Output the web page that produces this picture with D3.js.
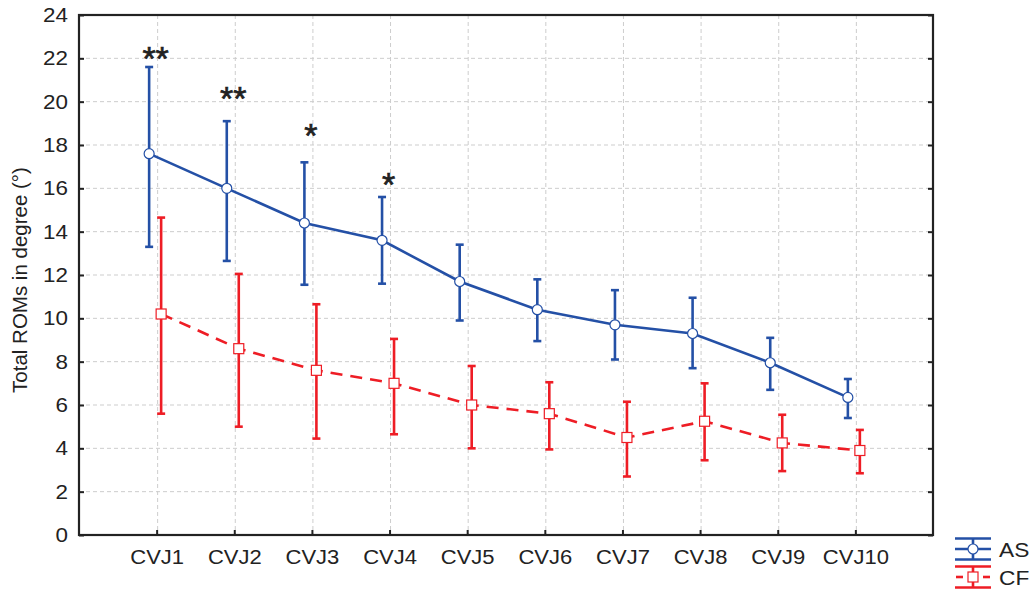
<!DOCTYPE html>
<html>
<head>
<meta charset="utf-8">
<script src="https://cdn.jsdelivr.net/npm/d3@7/dist/d3.min.js"></script>
<style>
  html, body { margin: 0; padding: 0; background: #fff; }
  svg { display: block; }
  text { font-family: "Liberation Sans", Arial, sans-serif; fill: #222; }
</style>
</head>
<body>
<svg id="chart" width="1032" height="594"></svg>
<script>
// Joint categories along the x axis
const categories = ["CVJ1", "CVJ2", "CVJ3", "CVJ4", "CVJ5", "CVJ6", "CVJ7", "CVJ8", "CVJ9", "CVJ10"];

// AS group: mean and error-bar limits (degrees)
const asMean  = [17.6, 16.0, 14.4, 13.6, 11.7, 10.4, 9.7, 9.3, 7.95, 6.35];
const asUpper = [21.6, 19.1, 17.2, 15.6, 13.4, 11.8, 11.3, 10.95, 9.1, 7.2];
const asLower = [13.3, 12.65, 11.55, 11.6, 9.9, 8.95, 8.1, 7.7, 6.7, 5.4];

// CF group: mean and error-bar limits (degrees)
const cfMean  = [10.2, 8.6, 7.6, 7.0, 6.0, 5.6, 4.5, 5.25, 4.25, 3.9];
const cfUpper = [14.65, 12.05, 10.65, 9.05, 7.8, 7.05, 6.15, 7.0, 5.55, 4.85];
const cfLower = [5.6, 5.0, 4.45, 4.65, 4.0, 3.95, 2.7, 3.45, 2.95, 2.85];

// Significance markers and the value level they sit at
const sigLabels = ["**", "**", "*", "*", "", "", "", "", "", ""];
const sigLevel  = [22.3, 20.45, 18.75, 16.5, null, null, null, null, null, null];

// Axis ticks
const yTicks = [0, 2, 4, 6, 8, 10, 12, 14, 16, 18, 20, 22, 24];
const seriesNames = ["AS", "CF"];

const svg = d3.select("#chart");
const plotLeft = 79, plotRight = 933, plotTop = 15, plotBottom = 535;
const BLUE = "#2450a6", RED = "#ee1d25";

// slightly widened glyphs for horizontal labels
function widen(sel, k) {
  sel.each(function () {
    const w = this.getComputedTextLength();
    d3.select(this).attr("textLength", w * k).attr("lengthAdjust", "spacingAndGlyphs");
  });
}

const x = d3.scaleLinear().domain([0, categories.length + 1]).range([plotLeft, plotRight]);
const y = d3.scaleLinear().domain([0, 24]).range([plotBottom, plotTop]);

// grid
const grid = svg.append("g").attr("stroke", "#cdcdcd").attr("stroke-width", 1).attr("stroke-dasharray", "4,3");
grid.selectAll("line.h").data(yTicks.filter(v => v > 0 && v < 24)).join("line")
  .attr("x1", plotLeft).attr("x2", plotRight).attr("y1", d => y(d)).attr("y2", d => y(d));
grid.selectAll("line.v").data(categories).join("line")
  .attr("x1", (d, i) => x(i + 1) + 1).attr("x2", (d, i) => x(i + 1) + 1)
  .attr("y1", plotTop).attr("y2", plotBottom);

// axes
const fontSize = 20;
const xAxis = svg.append("g").attr("transform", `translate(0,${plotBottom})`)
  .call(d3.axisBottom(x).tickValues(d3.range(1, categories.length + 1))
    .tickFormat(d => categories[d - 1]).tickSizeInner(-5).tickSizeOuter(0).tickPadding(15));
const yAxis = svg.append("g").attr("transform", `translate(${plotLeft},0)`)
  .call(d3.axisLeft(y).tickValues(yTicks).tickSizeInner(-5).tickSizeOuter(0).tickPadding(11));
const yAxisR = svg.append("g").attr("transform", `translate(${plotRight},0)`)
  .call(d3.axisRight(y).tickValues(yTicks).tickFormat("").tickSizeInner(-5).tickSizeOuter(0));
[xAxis, yAxis, yAxisR].forEach(g => {
  g.select(".domain").remove();
  g.selectAll(".tick line").attr("stroke", "#222").attr("stroke-width", 2);
  g.selectAll(".tick text").attr("font-size", fontSize).attr("fill", "#222")
    .style("font-family", "'Liberation Sans', Arial, sans-serif");
});
widen(xAxis.selectAll(".tick text"), 1.1);
widen(yAxis.selectAll(".tick text"), 1.12);

// frame
svg.append("rect").attr("x", plotLeft).attr("y", plotTop)
  .attr("width", plotRight - plotLeft).attr("height", plotBottom - plotTop)
  .attr("fill", "none").attr("stroke", "#222").attr("stroke-width", 2.2);

// y axis title
svg.append("text")
  .attr("transform", `translate(27,${(plotTop + plotBottom) / 2 + 5}) rotate(-90)`)
  .attr("text-anchor", "middle").attr("font-size", 20.5)
  .text("Total ROMs in degree (°)");

// series
const series = [
  { name: seriesNames[0], mean: asMean, up: asUpper, lo: asLower, color: BLUE, dx: -7.5, dash: null, shape: "circle" },
  { name: seriesNames[1], mean: cfMean, up: cfUpper, lo: cfLower, color: RED, dx: 4.5, dash: "12,8", shape: "square" }
];

const cap = 4;
series.forEach(s => {
  const g = svg.append("g");
  const px = i => x(i + 1) + s.dx;
  // error bars
  const eb = g.selectAll("g.eb").data(s.mean).join("g").attr("stroke", s.color).attr("stroke-width", 2.6);
  eb.append("line").attr("x1", (d, i) => px(i)).attr("x2", (d, i) => px(i))
    .attr("y1", (d, i) => y(s.up[i])).attr("y2", (d, i) => y(s.lo[i]));
  eb.append("line").attr("x1", (d, i) => px(i) - cap).attr("x2", (d, i) => px(i) + cap)
    .attr("y1", (d, i) => y(s.up[i])).attr("y2", (d, i) => y(s.up[i]));
  eb.append("line").attr("x1", (d, i) => px(i) - cap).attr("x2", (d, i) => px(i) + cap)
    .attr("y1", (d, i) => y(s.lo[i])).attr("y2", (d, i) => y(s.lo[i]));
  // mean line
  g.append("path").datum(s.mean)
    .attr("d", d3.line().x((d, i) => px(i)).y(d => y(d)))
    .attr("fill", "none").attr("stroke", s.color).attr("stroke-width", 2.6)
    .attr("stroke-dasharray", s.dash);
  // markers
  if (s.shape === "circle") {
    g.selectAll("circle").data(s.mean).join("circle")
      .attr("cx", (d, i) => px(i)).attr("cy", d => y(d)).attr("r", 5)
      .attr("fill", "#fff").attr("stroke", s.color).attr("stroke-width", 1.2);
  } else {
    g.selectAll("rect").data(s.mean).join("rect")
      .attr("x", (d, i) => px(i) - 5).attr("y", d => y(d) - 5).attr("width", 10).attr("height", 10)
      .attr("fill", "#fff").attr("stroke", s.color).attr("stroke-width", 1.2);
  }
});

// significance markers
svg.append("g").selectAll("text").data(sigLabels).join("text")
  .filter(d => d !== "")
  .attr("x", (d, i) => x(i + 1) - 1)
  .attr("y", (d, i) => y(sigLevel[i]) + 18)
  .attr("text-anchor", "middle").attr("font-size", 34).attr("fill", "#222")
  .attr("stroke", "#222").attr("stroke-width", 0.7)
  .text(d => d);

// legend
const legend = svg.append("g");
series.forEach((s, k) => {
  const cy = 549 + k * 28, lx0 = 955, lx1 = 991, mx = (lx0 + lx1) / 2;
  const lg = legend.append("g").attr("stroke", s.color).attr("stroke-width", 2.6);
  lg.append("line").attr("x1", lx0).attr("x2", lx1).attr("y1", cy - 10.5).attr("y2", cy - 10.5);
  lg.append("line").attr("x1", lx0).attr("x2", lx1).attr("y1", cy + 10.5).attr("y2", cy + 10.5);
  lg.append("line").attr("x1", mx).attr("x2", mx).attr("y1", cy - 10.5).attr("y2", cy + 10.5);
  if (s.dash) {
    lg.append("line").attr("x1", lx0 + 1).attr("x2", lx0 + 8).attr("y1", cy).attr("y2", cy);
    lg.append("line").attr("x1", lx1 - 8).attr("x2", lx1 - 1).attr("y1", cy).attr("y2", cy);
  } else {
    lg.append("line").attr("x1", lx0).attr("x2", lx1).attr("y1", cy).attr("y2", cy);
  }
  if (s.shape === "circle") {
    lg.append("circle").attr("cx", mx).attr("cy", cy).attr("r", 5).attr("fill", "#fff").attr("stroke-width", 1.2);
  } else {
    lg.append("rect").attr("x", mx - 5).attr("y", cy - 5).attr("width", 10).attr("height", 10)
      .attr("fill", "#fff").attr("stroke-width", 1.2);
  }
  const t = legend.append("text").attr("x", 999).attr("y", cy + 7.5).attr("font-size", 21).text(s.name);
  widen(t, 1.08);
});
</script>
</body>
</html>
